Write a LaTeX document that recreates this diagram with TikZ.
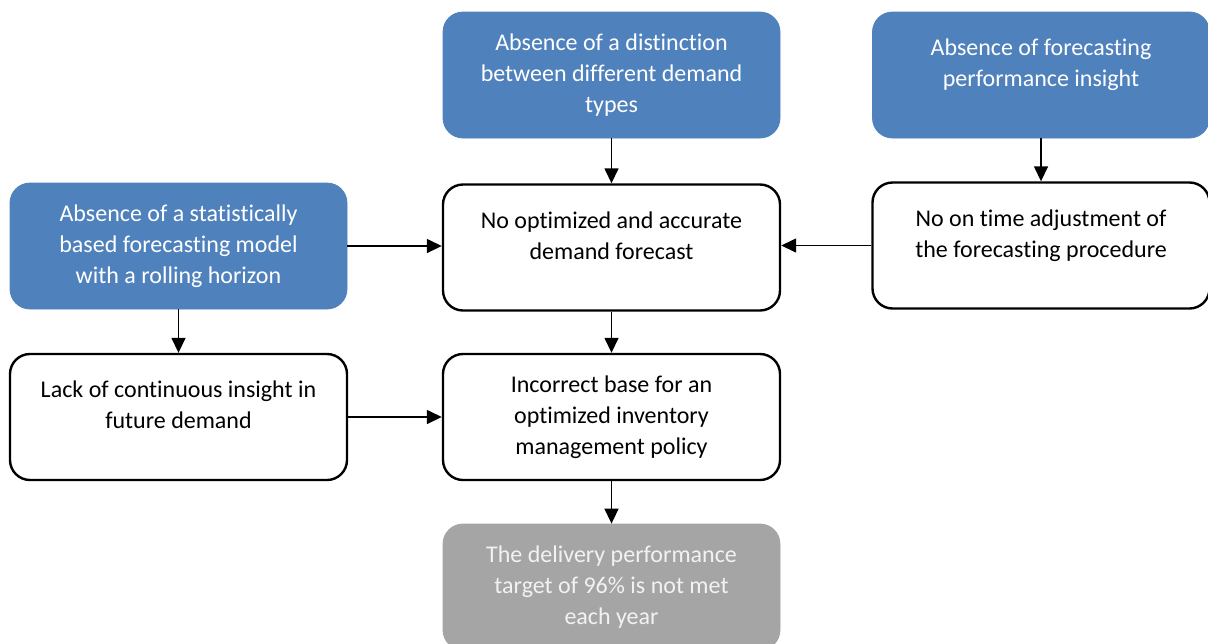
\documentclass[tikz,border=0pt]{standalone}
\usepackage{fontspec}
\setmainfont{Carlito}[Ligatures=NoCommon]
\usetikzlibrary{arrows.meta}
\definecolor{causeblue}{HTML}{4F81BD}
\definecolor{effectgray}{HTML}{A5A5A5}
\tikzset{
  box/.style={rounded corners=10pt,minimum width=168.5pt,minimum height=63pt,align=center,
    font=\fontsize{12pt}{15.5pt}\selectfont,inner sep=2pt},
  cause/.style={box,fill=causeblue,draw=causeblue,text=white},
  problem/.style={box,draw=black,line width=1.2pt,fill=white},
  effect/.style={box,fill=effectgray,draw=effectgray,text=white!95!black},
  lift/.style={text depth=12pt},
}
\begin{document}
\begin{tikzpicture}[x=0.5pt,y=-0.5pt,>={Triangle[width=7pt,length=7.5pt]},line join=round]
\useasboundingbox (0,0) rectangle (1208,643);
% causes
\node[cause] (types) at (611.5,75) {Absence of a distinction\\between different demand\\types};
\node[cause,lift] (insight) at (1041,75) {Absence of forecasting\\performance insight};
\node[cause] (model) at (178.5,246) {Absence of a statistically\\based forecasting model\\with a rolling horizon};
% problems
\node[problem,lift] (forecast) at (611.5,247.5) {No optimized and accurate\\demand forecast};
\node[problem,lift] (adjust) at (1041,245.5) {No on time adjustment of\\the forecasting procedure};
\node[problem,lift] (future) at (178.5,417) {Lack of continuous insight in\\future demand};
\node[problem] (base) at (611.5,417) {Incorrect base for an\\optimized inventory\\management policy};
% effect
\node[effect] (target) at (611.5,587) {The delivery performance\\target of 96\% is not met\\each year};
% arrows
\draw[->,line width=0.75pt] (types) -- (forecast);
\draw[->,line width=0.75pt] (insight) -- (adjust);
\draw[->,line width=0.75pt] (model) -- (forecast.west |- model);
\draw[->,line width=0.75pt] (adjust) -- (forecast.east |- adjust);
\draw[->,line width=0.75pt] (model) -- (future);
\draw[->,line width=0.75pt] (future) -- (base);
\draw[->,line width=0.75pt] (forecast) -- (base);
\draw[->,line width=0.75pt] (base) -- (target);
\end{tikzpicture}
\end{document}
